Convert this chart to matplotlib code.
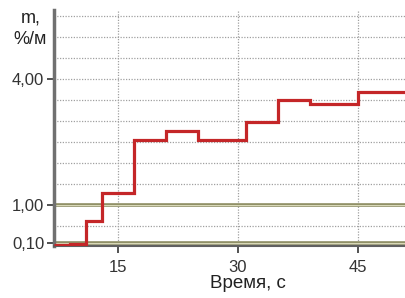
import numpy as np
import matplotlib.pyplot as plt

plt.rcParams['font.family'] = ['Liberation Sans', 'DejaVu Sans']

# step edges (s) and levels (%/m)
edges = [7, 9, 11, 13, 17, 21, 25, 31, 35, 39, 45, 51]
levels = [0.05, 0.07, 0.62, 1.29, 2.55, 2.76, 2.55, 2.98, 3.5, 3.4, 3.69]
xticks = [15, 30, 45]
yticks = [0.1, 1.0, 4.0]
ylabels = ['0,10', '1,00', '4,00']
grid_y = [0.5, 1.5, 2.0, 2.5, 3.0, 3.5, 4.0, 4.5, 5.0, 5.5]
ref_lines = [0.1, 1.0]

fig = plt.figure(figsize=(4.06, 2.98), dpi=100)
ax = fig.add_axes([54/406, 1-246/298, 1-54/406, 236/298])
ax.set_xlim(7, 51)
ax.set_ylim(0.02, 5.64)

for y in grid_y:
    ax.axhline(y, color='#a0a0a0', lw=0.9, ls=(0, (1, 1.2)), zorder=1)
for x in xticks:
    ax.axvline(x, color='#a0a0a0', lw=0.9, ls=(0, (1, 1.2)), zorder=1)
for y in ref_lines:
    ax.axhline(y, color='#8c8c62', lw=2.6, zorder=2)
    ax.axhline(y, color='#d8d8b8', lw=0.8, zorder=2)

ax.stairs(levels, edges, color='#c42628', lw=2.3, baseline=None, zorder=3)

ax.set_xticks(xticks)
ax.set_xticklabels([str(x) for x in xticks])
ax.set_yticks(yticks)
ax.set_yticklabels(ylabels)
ax.tick_params(labelsize=12, colors='#333333', length=5, width=1.2)
ax.tick_params(axis='x', pad=5)
ax.tick_params(axis='y', pad=2)

for s in ['top', 'right']:
    ax.spines[s].set_visible(False)
ax.spines['left'].set_color('#707070')
ax.spines['left'].set_linewidth(2.5)
ax.spines['bottom'].set_color('#606060')
ax.spines['bottom'].set_linewidth(1.5)
ax.spines['bottom'].set_linestyle((0, (1, 1)))

fig.text(248/406, 1-283/298, 'Время, с', ha='center', va='center', fontsize=13.5, color='#222222')
fig.text(41/406, 1-18/298, 'm,', ha='right', va='center', fontsize=13, color='#222222')
fig.text(47/406, 1-39/298, '%/м', ha='right', va='center', fontsize=13, color='#222222')

fig.savefig('out.png', dpi=100)
